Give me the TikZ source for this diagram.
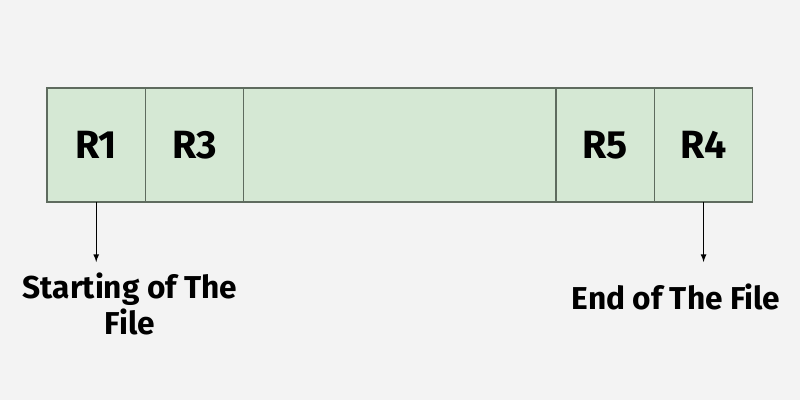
\documentclass[tikz,border=0pt]{standalone}
\usepackage{fontspec}
\setmainfont{Fira Sans}
\usetikzlibrary{positioning}
\definecolor{bgcol}{HTML}{F3F3F3}
\definecolor{recfill}{HTML}{D5E8D4}
\definecolor{recline}{HTML}{5E6B5E}
\begin{document}
\begin{tikzpicture}[x=0.025cm, y=-0.025cm, >=latex]%

    \tikzstyle{rec} = [ rectangle, draw = recline, line width = 0.9pt, fill = recfill, minimum height = 2.85cm, minimum width = 2.46cm, inner sep = 0pt, outer sep = 0pt, font = \fontsize{28}{32}\selectfont\bfseries]
    \tikzstyle{gap} = [ rec, minimum width = 7.8cm]
    \tikzstyle{lbl} = [ align = center, inner sep = 0pt, font = \fontsize{22.5}{26}\selectfont\bfseries]
    \tikzstyle{post} = [ ->, line width = 0.9pt, black]

    \fill[bgcol] (0,0) rectangle (800,400);
    \useasboundingbox (0,0) rectangle (800,400);

    %% Records
    \node [rec, anchor = north west] (r1) at (47,88) {R1};
    \node [rec] (r3) [ right = 0pt of r1] {R3};
    \node [gap] (mid) [ right = 0pt of r3] {};
    \node [rec] (r5) [ right = 0pt of mid] {R5};
    \node [rec] (r4) [ right = 0pt of r5] {R4};

    %% Labels
    \node [lbl] (start) at (130,304) {Starting of The\\File};
    \node [lbl] (end) at (676,297) {End of The File};

    \coordinate [ below = 1.5cm of r1.south] (start_in);
    \coordinate [ below = 1.5cm of r4.south] (end_in);

    \draw[post] (r1.south) -- (start_in);
    \draw[post] (r4.south) -- (end_in);

\end{tikzpicture}
\end{document}
